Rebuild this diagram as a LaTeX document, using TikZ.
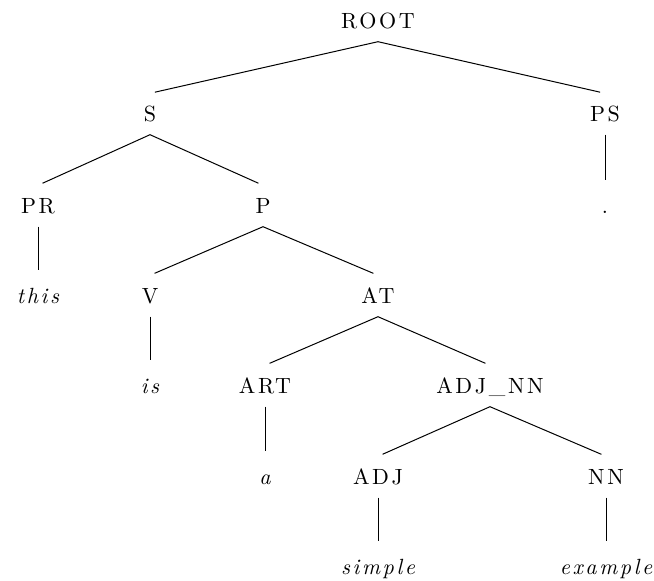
\documentclass[tikz,border=0pt]{standalone}
\usepackage{fontspec}
\usepackage{tikz}

\newfontfamily\treefont{lmroman10-regular.otf}[
  ItalicFont = lmroman10-italic.otf, LetterSpace = 12]

\tikzset{
  cat/.style  = {font=\treefont\fontsize{22}{26}\selectfont,
                 text height=15pt, text depth=0pt, inner ysep=13pt},
  word/.style = {cat, font=\treefont\fontsize{22}{26}\selectfont\itshape},
  branch/.style = {line width=1pt, shorten >=5pt}
}

\begin{document}
\begin{tikzpicture}[x=1pt,y=-1pt]
    \useasboundingbox (0,0) rectangle (654,581);
    \node [cat]  (root)  at (378, 21) {ROOT};
    \node [cat]  (s)     at (150,114) {S};
    \node [cat]  (ps)    at (605,114) {PS};
    \node [cat]  (pr)    at ( 38,206) {PR};
    \node [cat]  (p)     at (263,206) {P};
    \node [cat]  (dot)   at (605,206) {.};
    \node [word] (this)  at ( 38,296) {this};
    \node [cat]  (v)     at (150,296) {V};
    \node [cat]  (at)    at (378,296) {AT};
    \node [word] (is)    at (150,386) {is};
    \node [cat]  (art)   at (265,386) {ART};
    \node [cat]  (adjnn) at (490,386) {ADJ\_NN};
    \node [word] (a)     at (265,477) {a};
    \node [cat]  (adj)   at (378,477) {ADJ};
    \node [cat]  (nn)    at (606,477) {NN};
    \node [word] (simple)  at (378,567) {simple};
    \node [word] (example) at (606,567) {example};
    \foreach \up/\down in {root/s, root/ps, s/pr, s/p, ps/dot, pr/this,
                           p/v, p/at, v/is, at/art, at/adjnn, art/a,
                           adjnn/adj, adjnn/nn, adj/simple, nn/example}
      \draw [branch] (\up.south) -- (\down.north);
  \end{tikzpicture}
\end{document}
